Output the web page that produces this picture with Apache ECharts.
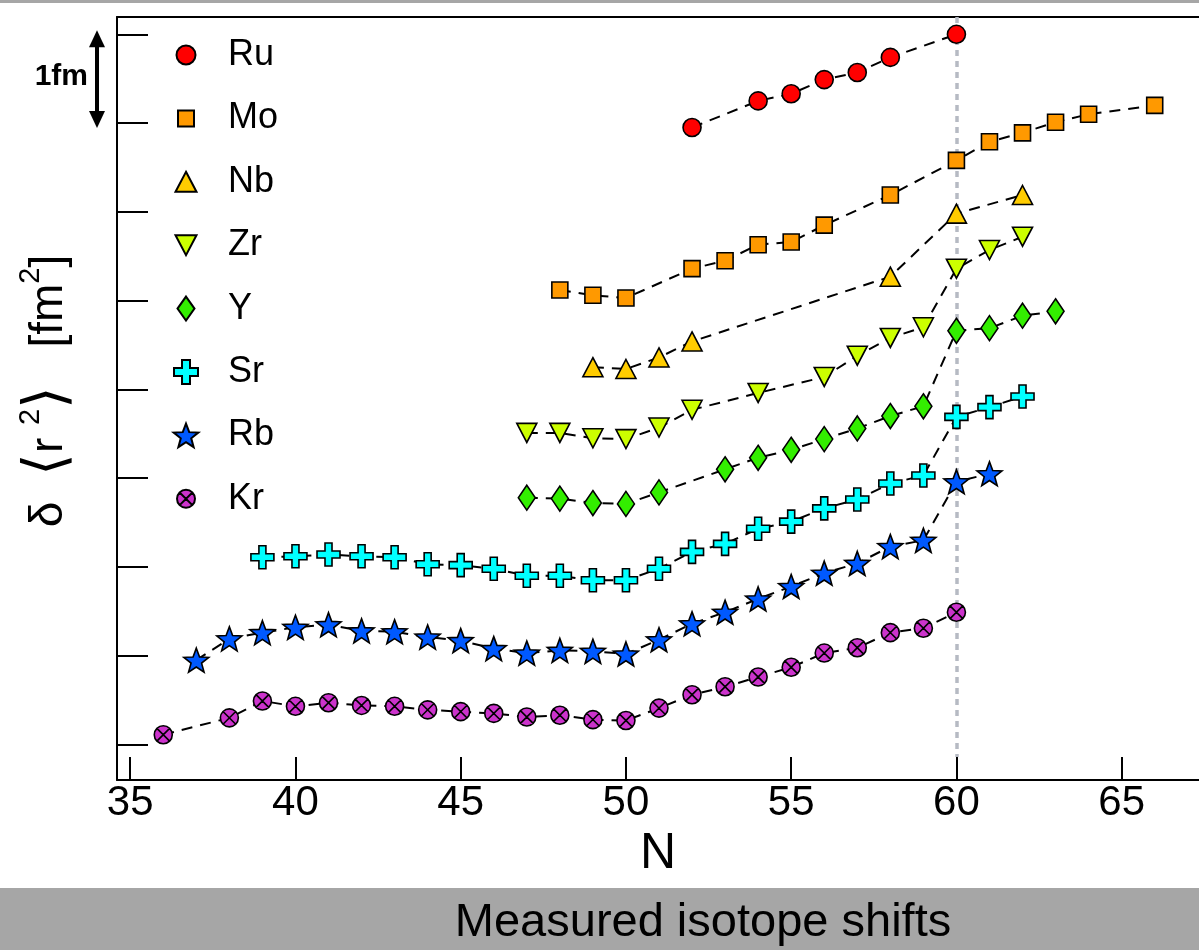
<!DOCTYPE html>
<html>
<head>
<meta charset="utf-8">
<script src="https://cdn.jsdelivr.net/npm/echarts@6/dist/echarts.min.js"></script>
<style>
  html, body { margin: 0; padding: 0; background: #fff; }
  #chart { width: 1199px; height: 950px; }
</style>
</head>
<body>
<div id="chart"></div>
<script>
// Axis ticks
const X_TICKS = [35, 40, 45, 50, 55, 60, 65];
const Y_TICKS = [0, 1, 2, 3, 4, 5, 6, 7, 8];

// Neutron number N and offset δ<r²> (fm², curves shifted for clarity)
const RU_N = [52, 54, 55, 56, 57, 58, 60];
const RU_R = [6.95, 7.25, 7.33, 7.49, 7.57, 7.74, 8.00];

const MO_N = [48, 49, 50, 52, 53, 54, 55, 56, 58, 60, 61, 62, 63, 64, 66];
const MO_R = [5.12, 5.06, 5.03, 5.36, 5.45, 5.63, 5.66, 5.85, 6.19, 6.58, 6.79, 6.89, 7.01, 7.10, 7.20];

const NB_N = [49, 50, 51, 52, 58, 60, 62];
const NB_R = [4.25, 4.23, 4.36, 4.54, 5.27, 5.98, 6.19];

const ZR_N = [47, 48, 49, 50, 51, 52, 54, 56, 57, 58, 59, 60, 61, 62];
const ZR_R = [3.51, 3.51, 3.45, 3.44, 3.57, 3.77, 3.96, 4.14, 4.38, 4.58, 4.70, 5.36, 5.57, 5.72];

const Y_N = [47, 48, 49, 50, 51, 53, 54, 55, 56, 57, 58, 59, 60, 61, 62, 63];
const Y_R = [2.78, 2.77, 2.72, 2.71, 2.84, 3.10, 3.23, 3.32, 3.44, 3.56, 3.70, 3.81, 4.66, 4.69, 4.83, 4.88];

const SR_N = [39, 40, 41, 42, 43, 44, 45, 46, 47, 48, 49, 50, 51, 52, 53, 54, 55, 56, 57, 58, 59, 60, 61, 62];
const SR_R = [2.11, 2.12, 2.14, 2.12, 2.11, 2.03, 2.02, 1.98, 1.90, 1.90, 1.85, 1.85, 1.98, 2.17, 2.26, 2.43, 2.51, 2.66, 2.76, 2.94, 3.03, 3.69, 3.80, 3.92];

const RB_N = [37, 38, 39, 40, 41, 42, 43, 44, 45, 46, 47, 48, 49, 50, 51, 52, 53, 54, 55, 56, 57, 58, 59, 60, 61];
const RB_R = [0.95, 1.19, 1.26, 1.32, 1.35, 1.28, 1.27, 1.21, 1.17, 1.08, 1.03, 1.06, 1.05, 1.02, 1.18, 1.36, 1.49, 1.64, 1.78, 1.93, 2.04, 2.23, 2.30, 2.96, 3.05];

const KR_N = [36, 38, 39, 40, 41, 42, 43, 44, 45, 46, 47, 48, 49, 50, 51, 52, 53, 54, 55, 56, 57, 58, 59, 60];
const KR_R = [0.11, 0.30, 0.49, 0.43, 0.47, 0.44, 0.43, 0.39, 0.37, 0.35, 0.31, 0.33, 0.28, 0.27, 0.41, 0.56, 0.65, 0.76, 0.87, 1.03, 1.09, 1.26, 1.31, 1.49];

// N = 60 shape transition guide
const GUIDE_N = 60;

const FONT = "'Liberation Sans', Arial, Helvetica, sans-serif";

function starPath(cx, cy, R, r) {
  const pts = [];
  for (let k = 0; k < 10; k++) {
    const a = -Math.PI / 2 + k * Math.PI / 5;
    const rad = k % 2 ? r : R;
    pts.push((cx + rad * Math.cos(a)).toFixed(2) + ',' + (cy + rad * Math.sin(a)).toFixed(2));
  }
  return 'M' + pts.join('L') + 'Z';
}

// Marker shapes for the plot
const SYM = {
  down: 'path://M0,0H20L10,19Z',
  plus: 'path://M8,0H15V8H23V15H15V23H8V15H0V8H8Z',
  star: 'path://' + starPath(50, 50, 50, 21),
  otimes: 'path://M0,9A9,9,0,1,1,18,9A9,9,0,1,1,0,9ZM2.64,2.64L15.36,15.36M15.36,2.64L2.64,15.36'
};

// Legend icons drawn in a fixed 26x26 frame so each keeps its own size
const FRAME = 'path://M0,0M26,26';
const ICON = {
  Ru: FRAME + 'M3.5,13A9.5,9.5,0,1,1,22.5,13A9.5,9.5,0,1,1,3.5,13Z',
  Mo: FRAME + 'M5,5H21V21H5Z',
  Nb: FRAME + 'M13,3L23.5,23H2.5Z',
  Zr: FRAME + 'M2.5,3H23.5L13,23Z',
  Y:  FRAME + 'M13,1L21.5,13L13,25L4.5,13Z',
  Sr: FRAME + 'M9,1H17V9H25V17H17V25H9V17H1V9H9Z',
  Rb: FRAME + starPath(13, 14.2, 13, 5.5),
  Kr: FRAME + 'M4,13A9,9,0,1,1,22,13A9,9,0,1,1,4,13ZM6.64,6.64L19.36,19.36M19.36,6.64L6.64,19.36'
};

const DEFS = [
  { name: 'Ru', n: RU_N, r: RU_R, symbol: 'circle', size: 18, color: '#ff0000' },
  { name: 'Mo', n: MO_N, r: MO_R, symbol: 'rect', size: 16, color: '#ff9900' },
  { name: 'Nb', n: NB_N, r: NB_R, symbol: 'triangle', size: [20, 19], color: '#ffcc00' },
  { name: 'Zr', n: ZR_N, r: ZR_R, symbol: SYM.down, size: [20, 19], color: '#ccff00' },
  { name: 'Y',  n: Y_N,  r: Y_R,  symbol: 'diamond', size: [17, 25], color: '#33ee00' },
  { name: 'Sr', n: SR_N, r: SR_R, symbol: SYM.plus, size: 23, color: '#00ffff' },
  { name: 'Rb', n: RB_N, r: RB_R, symbol: SYM.star, size: [25, 24], color: '#0059ff' },
  { name: 'Kr', n: KR_N, r: KR_R, symbol: SYM.otimes, size: 18, color: '#cc33cc' }
];

const series = DEFS.map(function (d) {
  return {
    name: d.name,
    type: 'line',
    data: d.n.map(function (n, i) { return [n, d.r[i]]; }),
    symbol: d.symbol,
    symbolSize: d.size,
    showAllSymbol: true,
    itemStyle: { color: d.color, borderColor: '#000', borderWidth: 1.6 },
    lineStyle: { color: '#000', width: 2, type: [11, 8] },
    emphasis: { disabled: true },
    animation: false
  };
});

// Dotted guide at N = 60, behind the data
series[0].markLine = {
  silent: true,
  z: 1,
  symbol: ['none', 'none'],
  label: { show: false },
  lineStyle: { color: '#b6bac3', width: 3.5, type: [6, 5], opacity: 1 },
  data: [[{ coord: [GUIDE_N, 8.195] }, { coord: [GUIDE_N, -0.14] }]]
};

const axisLineStyle = { color: '#000', width: 2 };

const option = {
  backgroundColor: '#fff',
  animation: false,
  grid: { left: 117, right: 0, top: 17, bottom: 170, containLabel: false },
  legend: {
    orient: 'vertical',
    left: 172,
    top: 37,
    padding: 0,
    itemWidth: 74,
    itemHeight: 26,
    itemGap: 27.4,
    selectedMode: false,
    textStyle: { fontSize: 36, color: '#000', fontFamily: FONT },
    data: DEFS.map(function (d) { return { name: d.name, icon: ICON[d.name] }; })
  },
  xAxis: [
    {
      type: 'value',
      position: 'bottom',
      min: 34.6,
      max: 67.34,
      axisLine: { onZero: false, lineStyle: axisLineStyle },
      axisTick: { inside: true, length: 23, lineStyle: axisLineStyle, customValues: X_TICKS },
      axisLabel: { customValues: X_TICKS, fontSize: 42, color: '#000', fontFamily: FONT, margin: 2 },
      splitLine: { show: false },
      name: 'N',
      nameLocation: 'middle',
      nameGap: 48,
      nameTextStyle: { fontSize: 50, color: '#000', fontFamily: FONT }
    },
    {
      type: 'value',
      position: 'top',
      min: 34.6,
      max: 67.34,
      axisLine: { onZero: false, lineStyle: axisLineStyle },
      axisTick: { show: false },
      axisLabel: { show: false },
      splitLine: { show: false }
    }
  ],
  yAxis: {
    type: 'value',
    min: -0.4,
    max: 8.195,
    axisLine: { show: true, onZero: false, lineStyle: axisLineStyle },
    axisTick: { show: true, inside: true, length: 31, lineStyle: axisLineStyle, customValues: Y_TICKS },
    axisLabel: { show: false },
    splitLine: { show: false },
    name: '{m|δ  }{b|⟨}{m|r }{s|2}{b|⟩}{m|   [fm}{s|2}{m|]}',
    nameLocation: 'middle',
    nameRotate: 90,
    nameGap: 35,
    nameTextStyle: {
      color: '#000',
      fontFamily: FONT,
      padding: [0, 0, 0, 15],
      rich: {
        m: { fontSize: 46, lineHeight: 66, fontFamily: FONT, color: '#000' },
        b: { fontSize: 58, lineHeight: 66, fontFamily: "'DejaVu Sans', " + FONT, fontWeight: 200, color: '#000' },
        s: { fontSize: 29, lineHeight: 29, verticalAlign: 'top', fontFamily: FONT, color: '#000' }
      }
    }
  },
  series: series
};

const chart = echarts.init(document.getElementById('chart'), null, { renderer: 'canvas' });
chart.setOption(option);

// Scale bar of one unit on the y axis, plus page bands and caption
const yTop = chart.convertToPixel({ yAxisIndex: 0 }, 8);
const yBot = chart.convertToPixel({ yAxisIndex: 0 }, 7);
const arrowX = 97;

chart.setOption({
  graphic: [
    { type: 'rect', id: 'bandTop', shape: { x: 0, y: 0, width: 1199, height: 3 }, style: { fill: '#a6a6a6' }, silent: true },
    { type: 'rect', id: 'bandBottom', shape: { x: 0, y: 888, width: 1199, height: 62 }, style: { fill: '#a6a6a6' }, silent: true },
    {
      type: 'text', id: 'caption', x: 703, y: 923, silent: true,
      style: { text: 'Measured isotope shifts', fill: '#000', fontSize: 47, fontFamily: FONT,
               align: 'center', verticalAlign: 'middle', textAlign: 'center', textVerticalAlign: 'middle' }
    },
    { type: 'line', id: 'barLine', silent: true,
      shape: { x1: arrowX, y1: yTop + 8, x2: arrowX, y2: yBot - 8 },
      style: { stroke: '#000', lineWidth: 4 } },
    { type: 'polygon', id: 'barHeadTop', silent: true,
      shape: { points: [[arrowX, yTop - 4], [arrowX + 8, yTop + 13], [arrowX - 8, yTop + 13]] },
      style: { fill: '#000' } },
    { type: 'polygon', id: 'barHeadBot', silent: true,
      shape: { points: [[arrowX, yBot + 5], [arrowX + 8, yBot - 12], [arrowX - 8, yBot - 12]] },
      style: { fill: '#000' } },
    {
      type: 'text', id: 'barLabel', x: 88, y: (yTop + yBot) / 2 - 2, silent: true,
      style: { text: '1fm', fill: '#000', fontSize: 30, fontWeight: 'bold', fontFamily: FONT,
               align: 'right', verticalAlign: 'middle', textAlign: 'right', textVerticalAlign: 'middle' }
    }
  ]
});
</script>
</body>
</html>
